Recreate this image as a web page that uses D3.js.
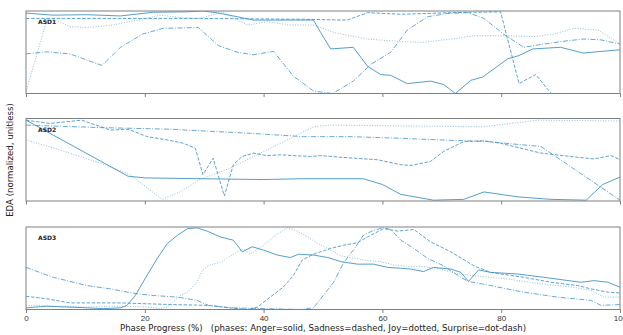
<!DOCTYPE html>
<html>
<head>
<meta charset="utf-8">
<script src="https://cdn.jsdelivr.net/npm/d3@7"></script>
<style>
  body { margin: 0; background: #fff; }
  svg { display: block; font-family: "DejaVu Sans", sans-serif; }
</style>
</head>
<body>
<svg id="chart" width="623" height="335"></svg>
<script>
// ---- data (x = phase progress %, y = normalized EDA) ----
const participants = ["ASD1", "ASD2", "ASD3"];
const emotions = ["Anger", "Sadness", "Joy", "Surprise"];
const xTicks = [0, 20, 40, 60, 80, 100];

const anger1 = [[0,0.975],[4.5,0.95],[10.3,0.955],[15.9,0.94],[21.4,0.985],[27,0.99],[29.8,1.0],[32,0.98],[34.9,0.94],[38.3,0.89],[46.2,0.89],[48.4,0.89],[49.6,0.74],[51.3,0.54],[55.1,0.56],[57.5,0.33],[59.7,0.23],[61.4,0.22],[64.2,0.12],[68.1,0.15],[70.3,0.11],[72.3,0.0],[74.9,0.16],[76.9,0.2],[78.8,0.3],[81.1,0.42],[83,0.46],[85.3,0.54],[90,0.56],[93.8,0.49],[96.8,0.51],[100,0.53]];
const sadness1 = [[0,0.91],[12.5,0.91],[29.3,0.91],[46.2,0.9],[54.1,0.89],[57.5,0.98],[63.1,0.96],[71.5,0.98],[79.9,0.99],[83,0.12],[85.8,0.23],[88.4,0.0],[91,-0.16],[100,-0.45]];
const joy1 = [[0,0.02],[3.5,0.89],[5.7,0.87],[7.4,0.81],[10.3,0.8],[14.6,0.83],[20.2,0.91],[22.6,0.95],[26,0.92],[29.3,0.91],[33.1,0.99],[37.3,0.83],[40.6,0.87],[44.5,0.83],[48.4,0.83],[51.8,0.74],[57.5,0.66],[63.1,0.63],[66.9,0.62],[71.5,0.66],[75.4,0.7],[79.9,0.7],[85.5,0.69],[88.9,0.72],[92.2,0.79],[96.3,0.77],[100,0.6]];
const surprise1 = [[0,0.48],[3.5,0.505],[7.4,0.48],[12.8,0.34],[15.9,0.56],[19.6,0.72],[23.1,0.79],[29,0.8],[32.4,0.58],[35.6,0.5],[38.3,0.47],[41.7,0.51],[45,0.21],[46.2,0.15],[48.4,0.03],[51.6,0.0],[55.1,0.15],[58,0.35],[61.4,0.5],[64.2,0.77],[67.6,0.93],[71,0.97],[74.4,0.98],[77.1,0.91],[80.4,0.72],[83.8,0.56],[87.2,0.6],[91.2,0.64],[93.9,0.66],[96.8,0.65],[100,0.6]];

const anger2 = [[0,0.98],[17.2,0.3],[20.1,0.28],[29.3,0.27],[40,0.26],[46.2,0.27],[56.8,0.27],[60,0.2],[63.1,0.08],[68.6,0.01],[73.7,0.02],[77.1,0.11],[82.8,0.05],[88.4,0.02],[94.3,0.01],[97.1,0.2],[100,0.29]];
const sadness2 = [[0,0.98],[4,0.94],[9.4,0.98],[14.2,0.86],[17.2,0.87],[20.4,0.78],[23.8,0.74],[26.5,0.7],[28.5,0.64],[29.8,0.32],[31.5,0.52],[33.4,0.06],[34.9,0.44],[36.4,0.54],[38.3,0.58],[40.6,0.55],[42.8,0.56],[45,0.55],[47.9,0.54],[49.6,0.55],[53,0.53],[59.2,0.5],[63.1,0.44],[64.8,0.43],[68.1,0.48],[70.3,0.6],[73.7,0.72],[77.1,0.73],[79.9,0.7],[86.7,0.58],[92.9,0.53],[95.6,0.51],[98.5,0.55],[100,0.5]];
const joy2 = [[0,0.74],[5.7,0.62],[12.5,0.46],[17.5,0.32],[22.9,0.02],[25.9,0.11],[29.3,0.26],[34.4,0.4],[40,0.6],[44.5,0.76],[48.4,0.9],[51.3,0.92],[63.1,0.91],[77.1,0.9],[81.6,0.94],[86.2,0.98],[100,0.97]];
const surprise2 = [[0,0.92],[12.5,0.89],[24.3,0.87],[37.8,0.82],[46.7,0.78],[54.6,0.78],[63.1,0.76],[69.8,0.74],[77.7,0.72],[86.7,0.66],[100,0.01]];

const anger3 = [[0,0.02],[3.5,0.04],[10.3,0.02],[13,0.01],[15.9,0.02],[17,0.05],[18.4,0.17],[20.1,0.38],[22.1,0.62],[23.8,0.8],[25.5,0.9],[27.2,0.98],[28.8,0.99],[30.5,0.95],[32.7,0.88],[34.9,0.84],[36.4,0.7],[38.1,0.76],[40,0.72],[42.3,0.66],[44.5,0.63],[45.9,0.67],[48.4,0.66],[50.8,0.63],[53,0.58],[55.8,0.55],[58.5,0.55],[60.9,0.51],[63.1,0.5],[64.8,0.49],[66.9,0.46],[68.6,0.51],[71.5,0.49],[73.2,0.45],[74.5,0.34],[76.2,0.48],[78.2,0.45],[82.8,0.43],[87.2,0.39],[93.4,0.33],[95.6,0.35],[98,0.33],[100,0.27]];
const sadness3 = [[0,0.16],[3.5,0.13],[7.4,0.08],[15.9,0.08],[24.3,0.06],[30.7,0.05],[34.4,0.02],[37.3,0.0],[39,0.03],[41.1,0.15],[43.3,0.27],[45,0.41],[46.5,0.6],[48.4,0.67],[51.3,0.74],[53.5,0.78],[55.8,0.81],[57.5,0.88],[60.2,0.98],[62.6,0.95],[65.3,0.97],[68.1,0.82],[71.5,0.7],[75.4,0.53],[78.2,0.45],[83.8,0.39],[88.4,0.33],[92.9,0.29],[95.1,0.25],[98,0.21],[100,0.2]];
const joy3 = [[0,0.05],[5.7,0.04],[10.3,0.03],[15.9,0.04],[20.4,0.03],[22.6,0.01],[23.8,0.03],[26,0.17],[27.2,0.21],[28,0.27],[28.8,0.33],[29.7,0.48],[31,0.54],[32.7,0.57],[35.6,0.7],[36.6,0.73],[37.8,0.67],[40,0.78],[42,0.9],[44,0.99],[45.4,0.96],[47.4,0.88],[49.1,0.8],[50.8,0.74],[53,0.65],[54.6,0.63],[57.5,0.59],[59.7,0.58],[61.9,0.54],[64.8,0.52],[66.9,0.52],[69.8,0.49],[72.7,0.43],[75.4,0.41],[81.1,0.37],[86.7,0.31],[92.2,0.27],[95.1,0.23],[97.3,0.15],[100,0.15]];
const surprise3 = [[0,0.51],[4.6,0.39],[10.3,0.29],[14.2,0.25],[18.7,0.19],[21.4,0.17],[25.5,0.15],[28.8,0.11],[30.7,0.05],[34.4,0.02],[40.6,0.01],[46.2,0.0],[48.4,0.02],[49.6,0.13],[51.8,0.33],[53.5,0.57],[55.1,0.72],[56.8,0.9],[58.5,0.96],[60.2,0.99],[61.4,0.97],[63.1,0.84],[65.3,0.74],[67.6,0.62],[70.3,0.53],[73.2,0.39],[74.5,0.34],[78.2,0.29],[83.8,0.21],[89.5,0.15],[95.1,0.11],[96.8,0.05],[100,0.06]];

const series = [
  [anger1, sadness1, joy1, surprise1],
  [anger2, sadness2, joy2, surprise2],
  [anger3, sadness3, joy3, surprise3],
];

// ---- styles ----
const lineColor = "#4393c8";
const dashes = { Anger: null, Sadness: "3.5,1.6", Joy: "1,1.6", Surprise: "5,1.6,1,1.6" };
const opac = { Anger: 0.9, Sadness: 0.85, Joy: 0.6, Surprise: 0.8 };

const svg = d3.select("#chart");
const left = 26, right = 620;
const panelTop = [11, 118.5, 227];
const panelH = 82.5;

const x = d3.scaleLinear().domain([0, 100]).range([left, right]);

participants.forEach((name, p) => {
  const top = panelTop[p];
  const y = d3.scaleLinear().domain([0, 1]).range([top + panelH, top]);
  const g = svg.append("g");

  g.append("clipPath").attr("id", "clip" + p)
    .append("rect")
    .attr("x", left).attr("y", top)
    .attr("width", right - left).attr("height", panelH);

  const line = d3.line().x(d => x(d[0])).y(d => y(d[1]));

  emotions.forEach((emo, i) => {
    g.append("path")
      .datum(series[p][i])
      .attr("clip-path", "url(#clip" + p + ")")
      .attr("fill", "none")
      .attr("stroke", lineColor)
      .attr("stroke-opacity", opac[emo])
      .attr("stroke-width", 1)
      .attr("stroke-dasharray", dashes[emo])
      .attr("d", line);
  });

  // frame
  g.append("rect")
    .attr("x", left).attr("y", top)
    .attr("width", right - left).attr("height", panelH)
    .attr("fill", "none")
    .attr("stroke", "#808080")
    .attr("stroke-width", 1);

  const last = p === participants.length - 1;
  const axis = g.append("g")
    .attr("transform", "translate(0," + (top + panelH) + ")")
    .call(d3.axisBottom(x).tickValues(xTicks).tickSize(3.5).tickPadding(2)
      .tickFormat(last ? d3.format("d") : ""));
  axis.select(".domain").remove();
  axis.selectAll(".tick line").attr("stroke", "#808080");
  axis.selectAll(".tick text").attr("fill", "#333").style("font-size", "8px");

  g.append("text")
    .attr("x", 38).attr("y", top + 13)
    .style("font-size", "6px")
    .style("font-weight", "bold")
    .attr("fill", "#222")
    .text(name);
});

svg.append("text")
  .attr("x", (left + right) / 2).attr("y", 331)
  .attr("text-anchor", "middle")
  .style("font-size", "8.6px")
  .style("white-space", "pre")
  .attr("fill", "#222")
  .text("Phase Progress (%)   (phases: Anger=solid, Sadness=dashed, Joy=dotted, Surprise=dot-dash)");

svg.append("text")
  .attr("transform", "translate(10," + 160 + ") rotate(-90)")
  .attr("text-anchor", "middle")
  .attr("dy", "0.35em")
  .style("font-size", "8.6px")
  .attr("fill", "#222")
  .text("EDA (normalized, unitless)");
</script>
</body>
</html>
